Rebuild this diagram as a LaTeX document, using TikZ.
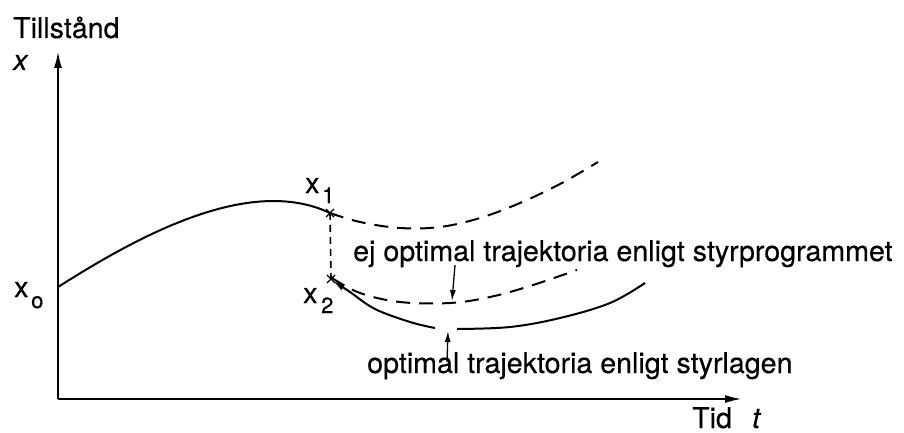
\documentclass[tikz,border=0pt]{standalone}
\usepackage{fontspec}
\setmainfont{TeX Gyre Heros}[FakeBold=0.4]
\usetikzlibrary{arrows.meta,calc}
\begin{document}
\begin{tikzpicture}[x=1pt,y=-1pt,
  lbl/.style={anchor=base west,inner sep=0pt,font=\fontsize{28.6}{34}\selectfont},
  sub/.style={anchor=base west,inner sep=0pt,font=\fontsize{22}{26}\selectfont},
  axis/.style={line width=1.4pt,-{Latex[length=16pt,width=8pt]}},
  curve/.style={line width=2pt},
  dcurve/.style={line width=2pt,dash pattern=on 14pt off 9pt},
  vdash/.style={line width=1.6pt,dash pattern=on 7pt off 5pt},
  ptr/.style={line width=1.3pt,-{Latex[length=11pt,width=6pt]}},
  cross/.style={line width=1.4pt}]
\useasboundingbox (0,0) rectangle (904,433);
% coordinates
\coordinate (O) at (58,399);
\coordinate (ytip) at (58,52);
\coordinate (xtip) at (741,399);
\coordinate (x0) at (58,287);
\coordinate (x1) at (330,213);
\coordinate (x2) at (331,279);
% axes
\draw[axis] (O) -- (ytip);
\draw[axis] (O) -- (xtip);
% labels
\node[lbl] (till) at (13,38) {Tillstånd};
\node[lbl] (xax) at (13,70) {\itshape x};
\node[lbl] (tid) at (692,428) {Tid};
\node[lbl] (tt) at (752,428) {\itshape t};
\node[lbl] (x0l) at (14,297) {x};
\node[sub] (x0s) at (31,308) {o};
\node[lbl] (x1l) at (305,193) {x};
\node[sub] (x1s) at (322,203) {1};
\node[lbl] (x2l) at (303,303) {x};
\node[sub] (x2s) at (321,313) {2};
\node[lbl] (ejopt) at (353,261) {ej optimal trajektoria enligt styrprogrammet};
\node[lbl] (opt) at (367,373) {optimal trajektoria enligt styrlagen};
% solid upper curve
\draw[curve] (x0) .. controls (140,235) and (250,175) .. (x1);
% vertical dashed jump
\draw[vdash] (x1) -- (x2);
% upper dashed curve
\draw[dcurve] plot[smooth,tension=0.6] coordinates {(330,213) (360,222) (400,228) (440,227) (480,218) (520,203) (560,184) (598,162)};
% lower dashed curve
\draw[dcurve] plot[smooth,tension=0.6] coordinates {(332,278) (360,293) (400,302) (450,303) (490,297) (530,286) (577,270)};
% lower solid curve with arrow at x2
\draw[curve,{Latex[length=12pt,width=7pt]}-] plot[smooth,tension=0.6] coordinates {(333,281) (350,292) (375,309) (410,322) (435,328)};
\draw[curve] plot[smooth,tension=0.6] coordinates {(457,329) (510,327) (560,318) (610,303) (645,283)};
% crosses
\draw[cross] ($(x1)+(-4,-4)$) -- ($(x1)+(4,4)$) ($(x1)+(-4,4)$) -- ($(x1)+(4,-4)$);
\draw[cross] ($(x2)+(-4,-4)$) -- ($(x2)+(4,4)$) ($(x2)+(-4,4)$) -- ($(x2)+(4,-4)$);
% pointer arrows
\coordinate (p1s) at (455,265);
\coordinate (p1e) at (452,301);
\coordinate (p2s) at (447,362);
\coordinate (p2e) at (448,331);
\draw[ptr] (p1s) -- (p1e);
\draw[ptr] (p2s) -- (p2e);
\end{tikzpicture}
\end{document}
